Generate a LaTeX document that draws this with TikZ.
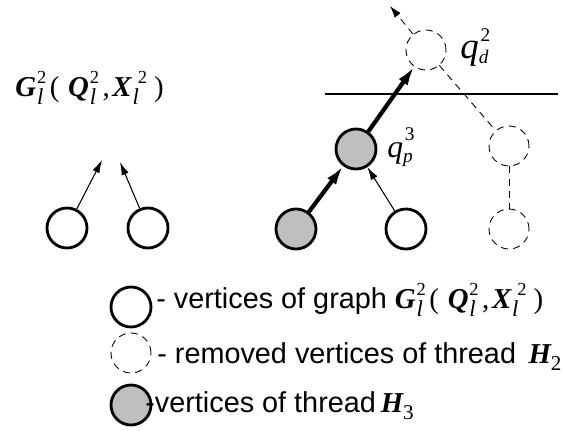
\documentclass[tikz,border=0pt]{standalone}
\usepackage{fontspec}
\setmainfont{Liberation Sans}
\newfontfamily\tms{Liberation Serif}
\usetikzlibrary{arrows.meta,positioning}

% letters and scripts of the formulas
\newcommand{\mfont}{\fontsize{16.4}{18}\selectfont\tms}
\newcommand{\sfont}{\fontsize{11}{12}\selectfont\tms}
\newcommand{\scr}[2]{\rlap{\raisebox{-5pt}{\fontsize{13}{13}\selectfont\tms\itshape #1}}%
  \raisebox{7pt}{\fontsize{10.5}{11}\selectfont\tms #2}}
\newcommand{\bvar}[3]{{\mfont\bfseries\itshape #1}\kern0.5pt\scr{#2}{#3}}
\newcommand{\graphG}{\bvar{G}{l}{2}\hspace{2pt}{\mfont(}\hspace{5pt}%
  \bvar{Q}{l}{2}\hspace{2pt}{\mfont,}\hspace{1.5pt}%
  \bvar{X}{l}{\hspace{3pt}2}\hspace{4pt}{\mfont)}}
\newcommand{\thrH}[1]{{\mfont\bfseries\itshape H}\raisebox{-4pt}{\fontsize{12}{12}\selectfont\tms #1}}
\newcommand{\qv}[3]{{\fontsize{#1}{#1}\selectfont\tms\itshape q}%
  \rlap{\raisebox{-3pt}{\sfont\itshape #2}}\kern1pt\raisebox{9.5pt}{\sfont #3}}

\begin{document}
\begin{tikzpicture}[x=0.02cm, y=-0.02cm,
  vert/.style={circle, draw, line width=1.6pt, minimum size=0.8cm, inner sep=0pt},
  thr/.style={vert, fill=black!25},
  gone/.style={circle, draw, line width=0.5pt, dash pattern=on 4pt off 3pt,
    minimum size=0.8cm, inner sep=0pt},
  lnk/.style={-{Latex[length=0.26cm,width=0.15cm]}, line width=0.6pt},
  heavy/.style={-{Latex[length=0.38cm,width=0.22cm]}, line width=2.4pt},
  rmln/.style={line width=0.5pt, dash pattern=on 4pt off 3pt},
  lbl/.style={font=\fontsize{16.4}{19}\selectfont, inner sep=0pt},
]
  \useasboundingbox (0,0) rectangle (565,430);

  % graph G_l^2
  \node[vert] (a1) at (67,228) {};
  \node[vert] (a2) at (148,228) {};
  \coordinate (t1) at (102,160);
  \coordinate (t2) at (120,162);
  \node[lbl, anchor=base west] (gl) at (15,96) {\graphG};
  \draw[lnk] (a1) -- (t1);
  \draw[lnk] (a2) -- (t2);

  % threads
  \node[thr]  (b1) at (296,229) {};
  \node[vert] (b2) at (406,229) {};
  \node[thr]  (p)  at (356,149) {};
  \node[gone] (d)  at (426,50) {};
  \node[gone] (r1) at (509,146) {};
  \node[gone] (r2) at (509,229) {};
  \coordinate (up) at (390,6);
  \coordinate (cutl) at (325,94);
  \coordinate (cutr) at (558,94);

  \draw[heavy] (b1) -- (p);
  \draw[lnk] (b2) -- (p);
  \draw[heavy] (p) -- (d);
  \draw[rmln, -{Latex[length=0.24cm,width=0.15cm]}] (d) -- (up);
  \draw[rmln] (d) -- (r1);
  \draw[rmln] (r1) -- (r2);
  \draw[line width=0.7pt] (cutl) -- (cutr);

  \node[lbl, anchor=base west] (qd) at (460,58) {\qv{21}{d}{2}};
  \node[lbl, anchor=base west] (qp) at (387,157) {\qv{18}{p}{3}};

  % legend
  \node[vert] (k1) at (131,307) {};
  \node[gone] (k2) at (131,353) {};
  \node[thr]  (k3) at (131,405) {};
  \node[lbl, anchor=base west] (l1) at (156,308) {- vertices of graph \graphG};
  \node[lbl, anchor=base west] (l2) at (157,363)
    {- removed vertices of thread\hspace{0.25cm}\thrH{2}};
  \node[lbl, anchor=base west] (l3) at (145,412)
    {-vertices of thread\,\thrH{3}};
\end{tikzpicture}
\end{document}
